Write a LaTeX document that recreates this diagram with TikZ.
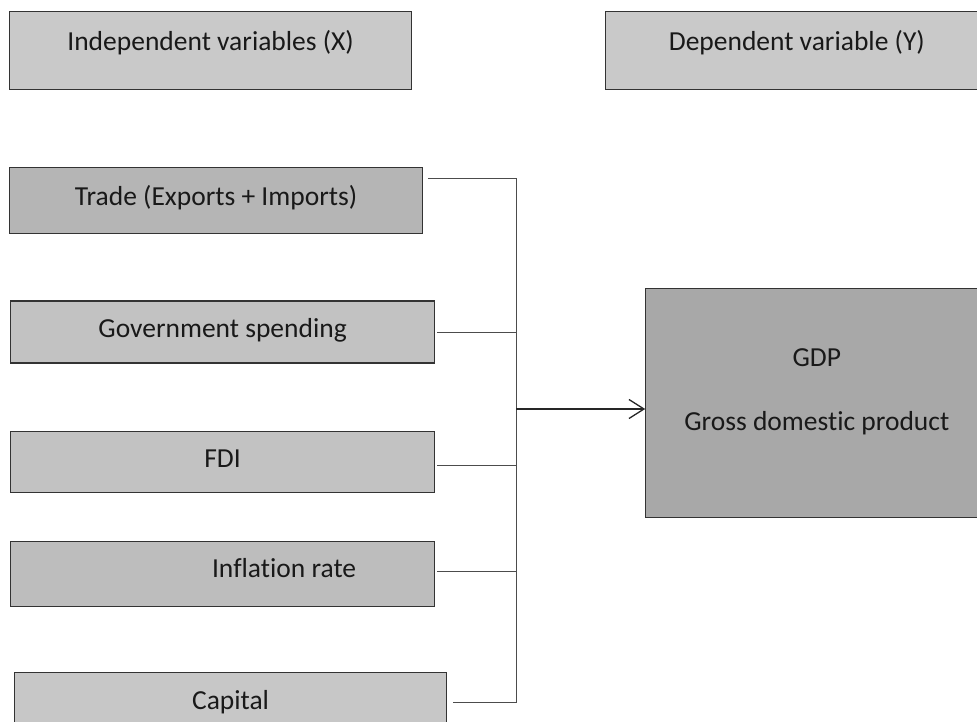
\documentclass[tikz,border=0pt]{standalone}
\usepackage{fontspec}
\setmainfont{Carlito}[Ligatures={NoCommon}]
\usetikzlibrary{arrows.meta,positioning}

\begin{document}
\begin{tikzpicture}[x=1pt,y=-1pt,
            var/.style={draw=black!80, line width=1.2pt, fill=black!24, inner ysep=0pt,
              font=\fontsize{27.5}{33}\selectfont, text=black!90, minimum width=424pt},
            head/.style={var, fill=black!21, minimum width=402pt, text height=38.5pt, text depth=39.5pt},
            link/.style={draw=black!70, line width=0.8pt},
            flow/.style={-{Straight Barb[length=15pt,width=19pt]}, line width=1.3pt, draw=black!85}
  ]
  \useasboundingbox (0,0) rectangle (977,722);

  % headers
  \node[head, anchor=north west] (indep) at (9,11) {Independent variables (X)};
  \node[head, minimum width=382pt] (dep) [right=193pt of indep] {Dependent variable (Y)};

  % independent variables
  \node[var, fill=black!29, minimum width=413pt, text height=38pt, text depth=28pt, anchor=north west] (trade)
    [below right=77pt and 0pt of indep.south west] {Trade (Exports + Imports)};
  \node[var, text height=36.5pt, text depth=25.5pt, anchor=north west] (gov)
    [below right=66pt and 1pt of trade.south west] {Government spending};
  \node[var, text height=36pt, text depth=25pt, anchor=north west] (fdi)
    [below right=67pt and 0pt of gov.south west] {FDI};
  \node[var, fill=black!26, text height=36pt, text depth=29pt, anchor=north west] (infl)
    [below right=48pt and 0pt of fdi.south west] {\hspace*{123pt}Inflation rate};
  \node[var, fill=black!22, minimum width=432pt, text height=37pt, text depth=30pt, anchor=north west] (cap)
    [below right=65pt and 4pt of infl.south west] {Capital};

  % dependent variable
  \node[var, fill=black!34, minimum width=342pt, minimum height=229pt, inner sep=0pt, align=center, anchor=north west] (gdp)
    [below right=198pt and 40pt of dep.south west] {GDP\\[31pt]Gross domestic product\rule[-27pt]{0pt}{0pt}};

  \coordinate (bus) at (516,409);

  \draw[link] ([xshift=5pt,yshift=22pt]trade.east) -- ([yshift=22pt]trade.east -| bus)
    -- ([yshift=3.5pt]cap.east -| bus) -- ([xshift=6pt,yshift=3.5pt]cap.east);
  \draw[link] ([xshift=2pt]gov.east) -- (gov.east -| bus);
  \draw[link] ([xshift=2pt,yshift=-3.5pt]fdi.east) -- ([yshift=-3.5pt]fdi.east -| bus);
  \draw[link] ([xshift=2pt,yshift=2.5pt]infl.east) -- ([yshift=2.5pt]infl.east -| bus);

  \draw[flow] (bus) -- (bus -| gdp.west);

\end{tikzpicture}
\end{document}
